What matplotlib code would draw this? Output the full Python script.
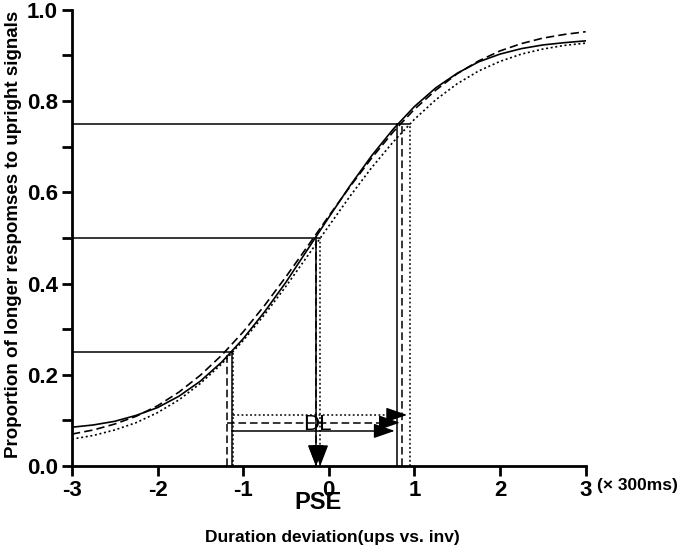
import numpy as np
import matplotlib
matplotlib.use("Agg")
import matplotlib.pyplot as plt

plt.rcParams["font.family"] = ["Liberation Sans", "DejaVu Sans"]
plt.rcParams["font.weight"] = "bold"

# fitted psychometric curves at 0.25 steps
x_dev = [-3.0, -2.75, -2.5, -2.25, -2.0, -1.75, -1.5, -1.25, -1.0, -0.75, -0.5, -0.25,
         0.0, 0.25, 0.5, 0.75, 1.0, 1.25, 1.5, 1.75, 2.0, 2.25, 2.5, 2.75, 3.0]
p_solid = [0.085, 0.090, 0.098, 0.111, 0.128, 0.153, 0.186, 0.228, 0.279, 0.338, 0.403, 0.474,
           0.545, 0.615, 0.680, 0.738, 0.788, 0.829, 0.861, 0.886, 0.903, 0.915, 0.923, 0.928, 0.932]
p_dashed = [0.070, 0.079, 0.092, 0.109, 0.132, 0.162, 0.199, 0.243, 0.294, 0.352, 0.415, 0.481,
            0.548, 0.613, 0.675, 0.732, 0.782, 0.824, 0.860, 0.888, 0.910, 0.926, 0.938, 0.946, 0.952]
p_dotted = [0.059, 0.067, 0.079, 0.095, 0.117, 0.145, 0.181, 0.224, 0.275, 0.332, 0.394, 0.460,
            0.526, 0.592, 0.654, 0.710, 0.760, 0.803, 0.838, 0.866, 0.887, 0.903, 0.914, 0.922, 0.927]

# crossing points at 25 / 50 / 75 %
levels = [0.25, 0.5, 0.75]
cross_solid = [-1.13, -0.15, 0.80]
cross_dashed = [-1.19, -0.15, 0.86]
cross_dotted = [-1.12, -0.10, 0.945]

# heights of the DL arrows
dl_solid = 0.077
dl_dashed = 0.095
dl_dotted = 0.112

styles = {
    "solid": "-",
    "dashed": (0, (5, 2.5)),
    "dotted": (0, (1.2, 1.6)),
}
series = [
    (p_solid, cross_solid, dl_solid, styles["solid"]),
    (p_dashed, cross_dashed, dl_dashed, styles["dashed"]),
    (p_dotted, cross_dotted, dl_dotted, styles["dotted"]),
]

fig = plt.figure(figsize=(6.85, 5.46), dpi=100)
ax = fig.add_axes([0.105, 0.1465, 0.75, 0.8355])

# horizontal guide lines
for i, lev in enumerate(levels):
    x_end = max(cross_solid[i], cross_dashed[i], cross_dotted[i])
    ax.plot([-3, x_end], [lev, lev], color="black", lw=1.1, solid_capstyle="butt")

for probs, cross, dl_y, ls in series:
    ax.plot(x_dev, probs, color="black", lw=1.2, linestyle=ls)
    # vertical drops from the curve to the axis
    for i, lev in enumerate(levels):
        ax.plot([cross[i], cross[i]], [0, lev], color="black", lw=1.1, linestyle=ls)
    # PSE arrowhead
    ax.annotate("", xy=(cross[1], 0.0), xytext=(cross[1], 0.04),
                arrowprops=dict(arrowstyle="-|>,head_length=1.3,head_width=0.5",
                                color="black", lw=1, shrinkA=0, shrinkB=0))
    # DL arrow
    x0, x1 = cross[0], cross[2] - 0.03
    ax.plot([x0, x1 - 0.15], [dl_y, dl_y], color="black", lw=1.1, linestyle=ls)
    ax.annotate("", xy=(x1, dl_y), xytext=(x1 - 0.18, dl_y),
                arrowprops=dict(arrowstyle="-|>,head_length=1.3,head_width=0.45",
                                color="black", lw=1, shrinkA=0, shrinkB=0))

ax.text(-0.13, 0.09, "DL", fontsize=16, fontweight="normal", ha="center", va="center")
ax.text(-0.13, -0.08, "PSE", fontsize=17, fontweight="bold", ha="center", va="center",
        clip_on=False)
ax.text(3.13, -0.026, "(× 300ms)", fontsize=12.5, fontweight="bold", ha="left", va="top",
        clip_on=False)

ax.set_xlim(-3, 3)
ax.set_ylim(0, 1.0)
ax.set_xticks([-3, -2, -1, 0, 1, 2, 3])
ax.set_xticklabels(["-3", "-2", "-1", "0", "1", "2", "3"])
ax.set_yticks([0.0, 0.2, 0.4, 0.6, 0.8, 1.0])
ax.set_yticklabels(["0.0", "0.2", "0.4", "0.6", "0.8", "1.0"])
ax.set_yticks([0.1, 0.3, 0.5, 0.7, 0.9], minor=True)

for side in ["top", "right"]:
    ax.spines[side].set_visible(False)
for side in ["left", "bottom"]:
    ax.spines[side].set_linewidth(2)

ax.tick_params(axis="both", which="both", direction="out", length=7, width=2,
               labelsize=16, pad=3)
for lab in ax.get_xticklabels() + ax.get_yticklabels():
    lab.set_fontweight("bold")

ax.set_xlabel("Duration deviation(ups vs. inv)", fontsize=12.5, fontweight="bold", va="center")
ax.xaxis.set_label_coords(0.506, -0.156)
ax.set_ylabel("Proportion of longer respomses to upright signals", fontsize=13.5,
              fontweight="bold", va="center")
ax.yaxis.set_label_coords(-0.113, 0.507)

fig.savefig("out.png", dpi=100)
